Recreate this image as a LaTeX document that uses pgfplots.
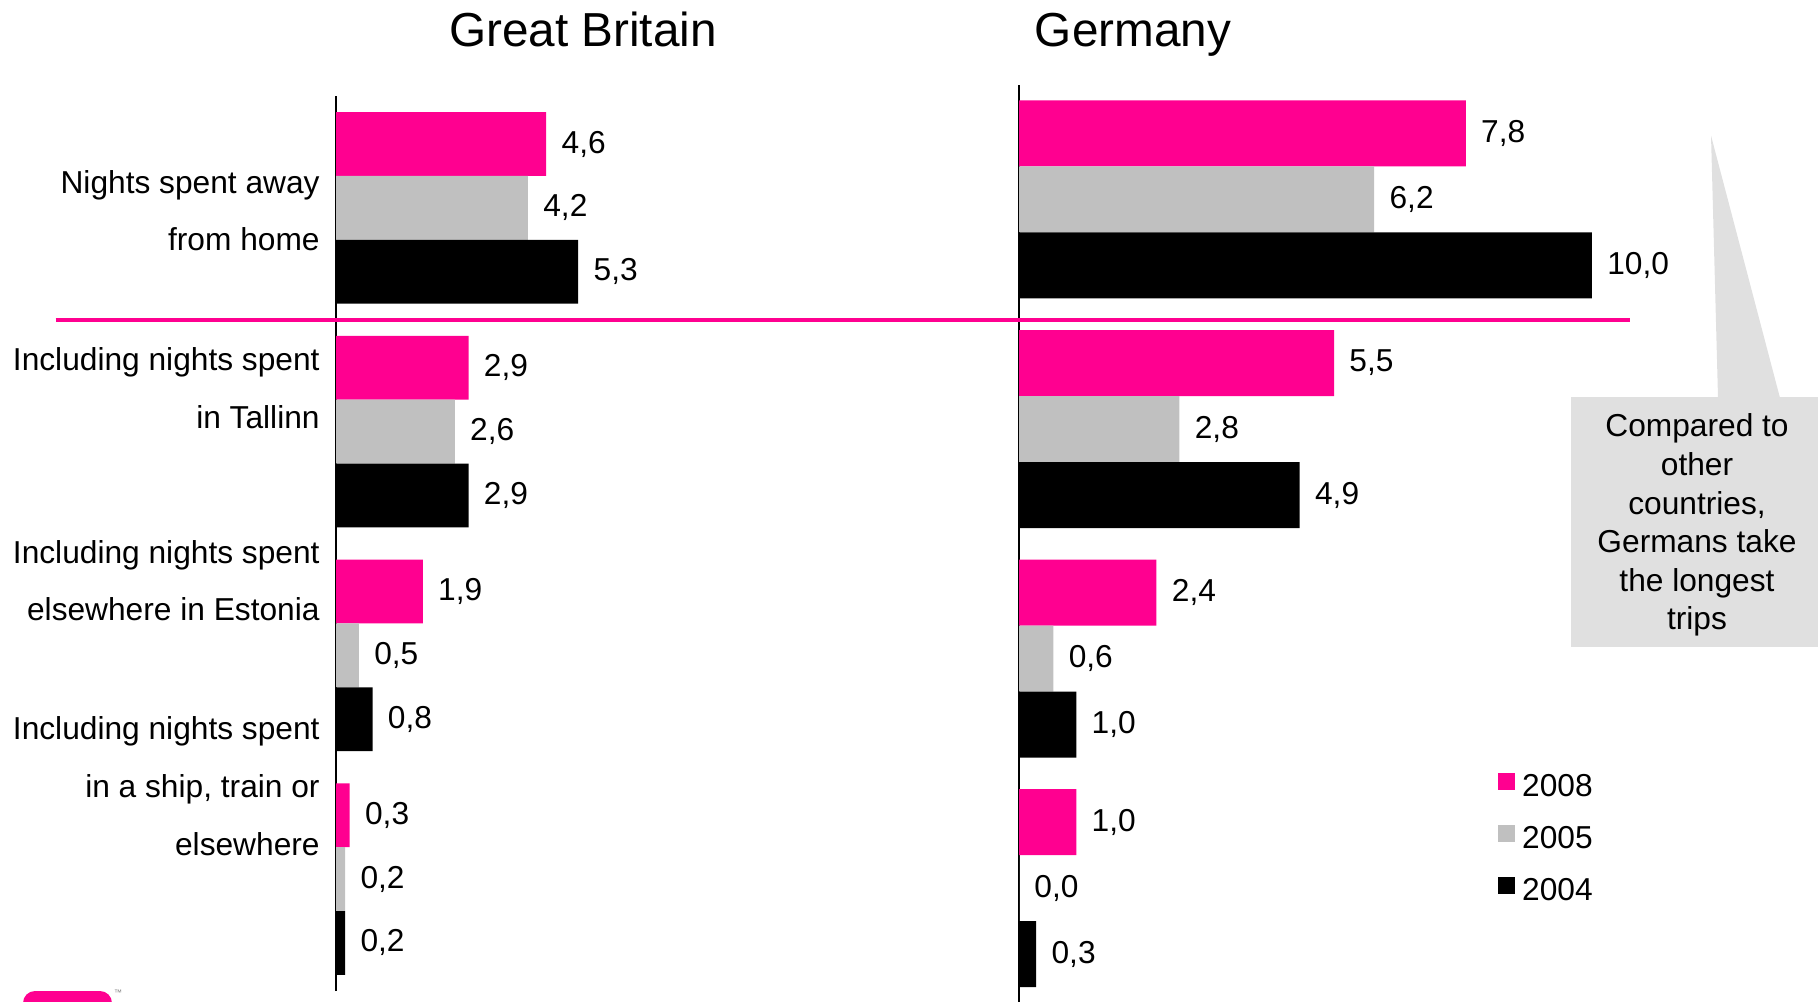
\documentclass[border=0pt]{standalone}
\usepackage{fontspec}
\setmainfont{Liberation Sans}
\usepackage{pgfplots}
\pgfplotsset{compat=1.18}
\definecolor{tpink}{RGB}{255,0,144}
\definecolor{tgray}{RGB}{192,192,192}
\definecolor{callgray}{RGB}{224,224,224}
\newcommand\bodyfont{\fontsize{15.85pt}{19.3pt}\selectfont}
\newcommand\titlefont{\fontsize{23.85pt}{28pt}\selectfont}
\pgfplotsset{
  panel/.style={xbar, scale only axis, anchor=south west,
    xmin=0, ymin=-0.5, ymax=3.5,
    axis x line=none, axis y line*=left, ytick=\empty,
    clip=false, axis line style={line width=1.1pt, black},
    nodes near coords,
    nodes near coords style={anchor=west, inner sep=0pt, xshift=7.5pt, font=\bodyfont, text=black},
    /pgf/number format/.cd, fixed, fixed zerofill, precision=1, use comma, assume math mode=true},
}
\begin{document}
\begin{tikzpicture}
\useasboundingbox (0pt,0pt) rectangle (909pt,-500.5pt);

% Great Britain
\begin{axis}[panel, at={(168pt,-495.5pt)}, width=250pt, height=447.5pt,
  xmax=10.94, bar width=31.9pt]
\addplot[fill=tpink, draw=none, bar shift=31.9pt] coordinates {(4.6,3) (2.9,2) (1.9,1) (0.3,0)};
\addplot[fill=tgray, draw=none, bar shift=0pt] coordinates {(4.2,3) (2.6,2) (0.5,1) (0.2,0)};
\addplot[fill=black, draw=none, bar shift=-31.9pt] coordinates {(5.3,3) (2.9,2) (0.8,1) (0.2,0)};
\end{axis}

% Germany
\begin{axis}[panel, at={(509.5pt,-501.5pt)}, width=350pt, height=459.2pt,
  xmax=12.22, bar width=33pt,
  legend style={draw=none, fill=none, at={(axis cs:8.357,0.2134)}, anchor=west,
    inner sep=0pt, row sep=11.65pt, column sep=0pt, font=\bodyfont,
    nodes={inner sep=0pt, text height=0.75em, text depth=0.25em}},
  legend cell align=left,
  legend image code/.code={\fill[#1] (0pt,0.7pt) rectangle (8.5pt,9.2pt);}]
\addplot[fill=tpink, draw=none, bar shift=33pt] coordinates {(7.8,3) (5.5,2) (2.4,1) (1.0,0)};
\addlegendentry{\hspace{3.5pt}2008}
\addplot[fill=tgray, draw=none, bar shift=0pt] coordinates {(6.2,3) (2.8,2) (0.6,1) (0.0,0)};
\addlegendentry{\hspace{3.5pt}2005}
\addplot[fill=black, draw=none, bar shift=-33pt] coordinates {(10.0,3) (4.9,2) (1.0,1) (0.3,0)};
\addlegendentry{\hspace{3.5pt}2004}
\end{axis}

% titles
\node[anchor=base, font=\titlefont] at (291.5pt,-23.2pt) {Great Britain};
\node[anchor=base, font=\titlefont] at (566.5pt,-23.2pt) {Germany};

% category labels
\begin{scope}[every node/.style={anchor=base east, font=\bodyfont, inner sep=0pt}]
\node at (160pt,-96.7pt) {Nights spent away};
\node at (160pt,-125.1pt) {from home};
\node at (160pt,-185.4pt) {Including nights spent};
\node at (160pt,-214.4pt) {in Tallinn};
\node at (160pt,-281.6pt) {Including nights spent};
\node at (160pt,-310.0pt) {elsewhere in Estonia};
\node at (160pt,-369.7pt) {Including nights spent};
\node at (160pt,-398.7pt) {in a ship, train or};
\node at (160pt,-427.7pt) {elsewhere};
\end{scope}

% separator
\draw[tpink, line width=2.25pt] (27.85pt,-160pt) -- (815pt,-160pt);

% callout
\fill[callgray] (785.5pt,-198.25pt) rectangle (909pt,-323.5pt);
\fill[callgray] (855.5pt,-67.8pt) -- (859pt,-199pt) -- (890pt,-199pt) -- cycle;
\node[font=\bodyfont, align=center, inner sep=0pt] at (848.5pt,-262.6pt)
  {Compared to\\other\\countries,\\Germans take\\the longest\\trips};

% logo fragment
\fill[tpink, rounded corners=6pt] (11.5pt,-495.5pt) rectangle (56pt,-520pt);
\node[font=\fontsize{4pt}{4pt}\selectfont, text=gray, inner sep=0pt] at (59pt,-496.5pt) {™};
\end{tikzpicture}
\end{document}
